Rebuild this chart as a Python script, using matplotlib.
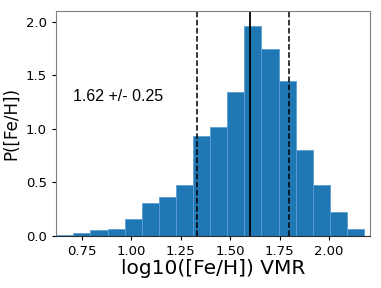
import numpy as np
import matplotlib.pyplot as plt

# histogram bin edges and density heights
bin_start = 0.620
bin_width = 0.0865
heights = [0.01, 0.028, 0.05, 0.059, 0.152, 0.30, 0.36, 0.477, 0.928,
           1.015, 1.339, 1.956, 1.744, 1.449, 0.804, 0.47, 0.22, 0.062]
edges = bin_start + bin_width * np.arange(len(heights) + 1)

median = 1.60
lower = 1.333
upper = 1.796
label = '1.62 +/- 0.25'

fig = plt.figure(figsize=(3.81, 2.88), dpi=100)
ax = fig.add_axes([0.147, 0.182, 0.824, 0.78])

ax.bar(edges[:-1], heights, width=bin_width, align='edge',
       color='#1f77b4', edgecolor='#5a9fd4', linewidth=0.6)

ax.axvline(median, color='black', lw=1.3)
ax.axvline(lower, color='black', lw=1.1, ls='--')
ax.axvline(upper, color='black', lw=1.1, ls='--')

ax.text(0.053, 0.62, label, transform=ax.transAxes, va='center',
        fontsize=11.5, family='Liberation Sans')

ax.set_xlim(0.619, 2.207)
ax.set_ylim(0, 2.1)
ax.set_xticks([0.75, 1.00, 1.25, 1.50, 1.75, 2.00])
ax.set_yticks([0.0, 0.5, 1.0, 1.5, 2.0])
ax.tick_params(labelsize=9.5, length=3)
ax.set_xlabel('log10([Fe/H]) VMR', fontsize=14.5, labelpad=1)
ax.set_ylabel('P([Fe/H])', fontsize=12, labelpad=4)

for side in ['left', 'top', 'right']:
    ax.spines[side].set_color('#808080')
ax.spines['bottom'].set_color('#303030')

fig.savefig('out.png', dpi=100)
